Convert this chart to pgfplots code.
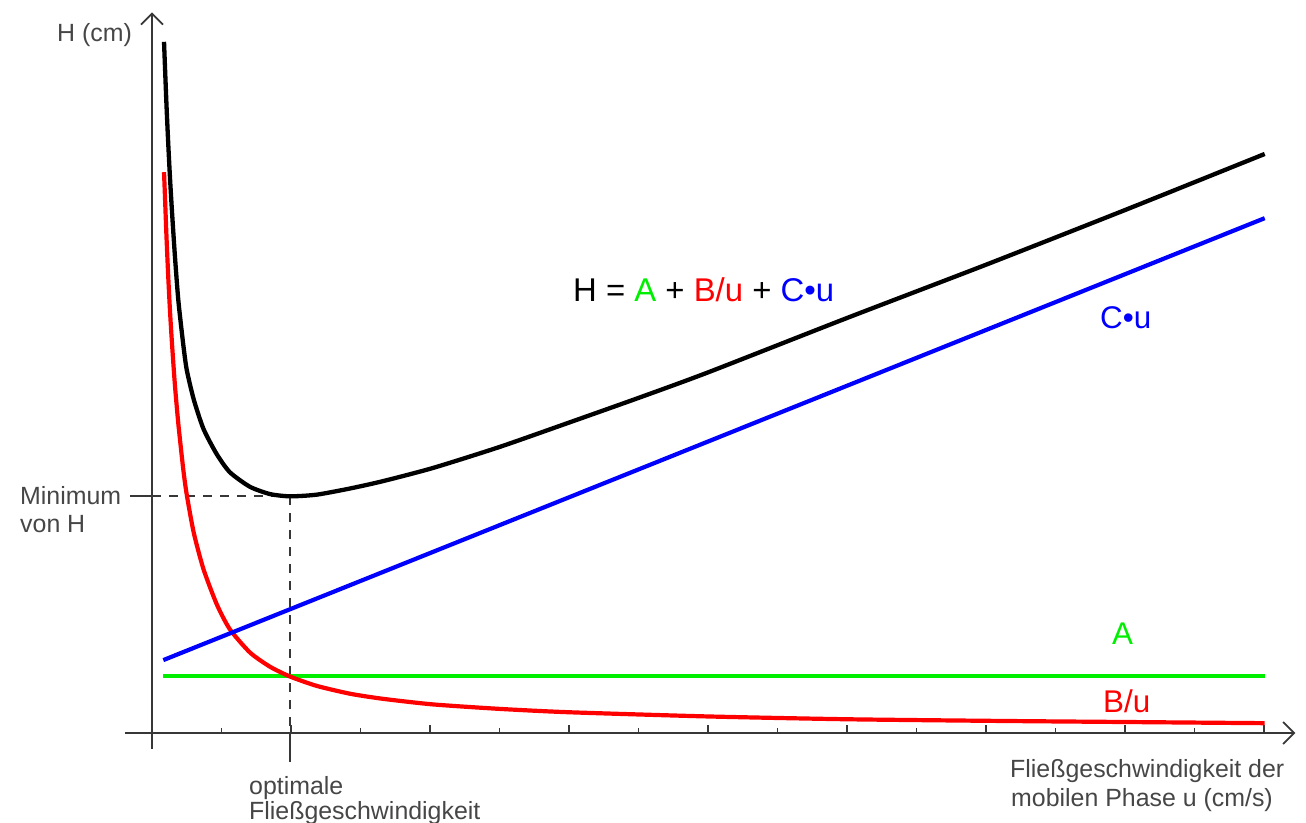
\documentclass[border=0pt]{standalone}
\usepackage{fontspec}
\setmainfont{Liberation Sans}
\usepackage{pgfplots}
\pgfplotsset{compat=1.18}
\usetikzlibrary{arrows.meta}
\definecolor{axgray}{RGB}{55,55,55}
\definecolor{txtgray}{RGB}{70,70,70}
\definecolor{cgreen}{RGB}{0,238,0}
\definecolor{cred}{RGB}{255,0,0}
\definecolor{cblue}{RGB}{0,0,255}
\begin{document}
\begin{tikzpicture}
\useasboundingbox (0,0) rectangle (1306bp,823bp);
\begin{axis}[
  at={(152bp,90bp)}, anchor=origin,
  x=69.5bp, y=28.04bp,
  xmin=-0.39, xmax=16.45, ymin=-0.57, ymax=25.7,
  axis lines=middle,
  axis line style={axgray, line width=1.7bp, -{Straight Barb[length=11bp,width=22bp]}},
  xtick={2,4,...,16}, minor xtick={1,3,...,15},
  ytick=\empty, minor ytick={1,...,25},
  xticklabels={}, yticklabels={},
  tick align=inside,
  major tick length=8bp, minor tick length=5bp,
  tick style={axgray, line width=1.2bp},
  clip=false,
]
% guide lines
\addplot[axgray, line width=1.7bp, dash pattern=on 9bp off 8bp] coordinates {(0,8.45) (1.99,8.45)};
\addplot[axgray, line width=1.7bp, dash pattern=on 9bp off 8bp] coordinates {(1.99,8.45) (1.99,0)};
\addplot[axgray, line width=1.7bp] coordinates {(-0.32,8.45) (0,8.45)};
\addplot[axgray, line width=1.7bp] coordinates {(1.99,0) (1.99,-1.05)};
% A
\addplot[cgreen, line width=4bp] coordinates {(0.158,2.05) (16.01,2.05)};
% B/u
\addplot[cred, line width=4.2bp, smooth, tension=0.4] coordinates {
(0.173,20.0) (0.19,18.9) (0.21,17.6) (0.235,16.2) (0.26,15.0) (0.29,13.8)
(0.33,12.4) (0.38,11.0) (0.45,9.4) (0.5,8.5) (0.6,7.15) (0.74,5.85)
(0.93,4.6) (1.12,3.7) (1.41,2.87) (1.7,2.36) (1.99,2.01) (2.37,1.68)
(2.85,1.40) (3.32,1.22) (4.04,1.02) (5.0,0.86) (6.0,0.74) (8.0,0.59)
(10.0,0.49) (12.2,0.43) (14.1,0.39) (16.01,0.35)};
% C u
\addplot[cblue, line width=4.2bp] coordinates {(0.163,2.6) (16.01,18.36)};
% H
\addplot[black, line width=4.3bp, smooth, tension=0.4] coordinates {
(0.173,24.65) (0.19,23.55) (0.21,22.3) (0.235,20.95) (0.26,19.75) (0.29,18.5)
(0.33,17.0) (0.38,15.4) (0.45,13.85) (0.5,12.95) (0.6,11.9) (0.74,10.85)
(0.93,9.95) (1.12,9.3) (1.41,8.78) (1.7,8.52) (1.99,8.44) (2.37,8.5)
(2.85,8.72) (3.32,8.98) (4.04,9.45) (5.0,10.2) (6.0,11.07) (7.0,11.95)
(8.0,12.86) (10.0,14.8) (12.0,16.7) (14.0,18.65) (16.01,20.65)};
\end{axis}
% labels
\begingroup
\def\gs{\fontsize{25}{28}\selectfont}
\def\cs{\fontsize{31.5}{34}\selectfont}
\node[anchor=base west, inner sep=0, text=txtgray, font=\gs] at (57bp,781bp) {H (cm)};
\node[anchor=base west, inner sep=0, text=txtgray, font=\gs] at (20bp,318bp) {Minimum};
\node[anchor=base west, inner sep=0, text=txtgray, font=\gs] at (20bp,290bp) {von H};
\node[anchor=base west, inner sep=0, text=txtgray, font=\gs] at (249bp,29bp) {optimale};
\node[anchor=base west, inner sep=0, text=txtgray, font=\gs] at (249bp,4bp) {Fließgeschwindigkeit};
\node[anchor=base west, inner sep=0, text=txtgray, font=\gs] at (1010bp,45bp) {Fließgeschwindigkeit der};
\node[anchor=base west, inner sep=0, text=txtgray, font=\gs] at (1011bp,17bp) {mobilen Phase u (cm/s)};
\node[anchor=base west, inner sep=0, font=\fontsize{33}{36}\selectfont] at (573bp,521.3bp)
  {H = \textcolor{cgreen}{A} + \textcolor{cred}{B/u} + \textcolor{cblue}{C•u}};
\node[anchor=base west, inner sep=0, text=cblue, font=\cs] at (1100bp,494.7bp) {C•u};
\node[anchor=base west, inner sep=0, text=cgreen, font=\cs] at (1112bp,178bp) {A};
\node[anchor=base west, inner sep=0, text=cred, font=\cs] at (1103bp,110bp) {B/u};
\endgroup
\end{tikzpicture}
\end{document}
